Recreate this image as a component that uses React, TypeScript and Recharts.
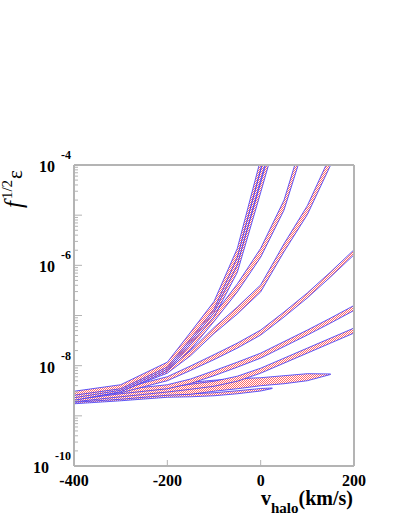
import React from 'react'
import { ComposedChart, Area, XAxis, YAxis, ReferenceLine } from 'recharts'

// plot box in page pixels
const PLOT = { left: 74, top: 165, right: 354, bottom: 466 }
const W = 401
const H = 518
const SERIF = '"Liberation Serif", "DejaVu Serif", serif'
const AXIS_GREY = '#b4b4b4'

const V = [-400, -300, -200, -150, -100, -50, 0, 25, 50, 100, 150, 200]

// each band: log10 of its centre and its half-width in decades, one per V; null = not drawn
const c1 = [-8.55, -8.42, -7.98, -7.4, -6.8, -5.75, -3.98, null, -2.2, null, null, null]
const h1 = [0.04, 0.04, 0.05, 0.07, 0.08, 0.09, 0.1, null, 0.12, null, null, null]
const c2 = [-8.6, -8.45, -8.02, -7.45, -6.86, -5.9, -4.2, null, -2.5, null, null, null]
const h2 = [0.04, 0.04, 0.05, 0.07, 0.08, 0.09, 0.1, null, 0.12, null, null, null]
const c3 = [-8.65, -8.48, -8.06, -7.5, -6.95, -6.05, -4.45, null, -2.8, null, null, null]
const h3 = [0.04, 0.04, 0.05, 0.07, 0.08, 0.09, 0.1, null, 0.12, null, null, null]
const c4 = [-8.56, -8.45, -8.05, -7.62, -7.05, -6.45, -5.75, null, -4.8, -3.3, null, null]
const h4 = [0.04, 0.04, 0.05, 0.06, 0.07, 0.08, 0.09, null, 0.1, 0.12, null, null]
const c5 = [-8.58, -8.47, -8.1, -7.75, -7.3, -6.9, -6.46, null, -5.65, -4.9, -3.9, null]
const h5 = [0.04, 0.04, 0.05, 0.05, 0.06, 0.07, 0.07, null, 0.08, 0.09, 0.1, null]
const c6 = [-8.62, -8.5, -8.26, -8.05, -7.83, -7.6, -7.34, null, -6.98, -6.6, -6.18, -5.74]
const h6 = [0.04, 0.04, 0.04, 0.045, 0.05, 0.05, 0.05, null, 0.05, 0.05, 0.05, 0.05]
const c7 = [-8.64, -8.52, -8.42, -8.31, -8.15, -7.98, -7.8, null, -7.57, -7.34, -7.1, -6.85]
const h7 = [0.04, 0.04, 0.04, 0.045, 0.05, 0.05, 0.05, null, 0.05, 0.05, 0.05, 0.05]
const c8 = [-8.68, -8.58, -8.48, -8.42, -8.36, -8.26, -8.1, null, -7.9, -7.7, -7.5, -7.3]
const h8 = [0.04, 0.04, 0.045, 0.05, 0.05, 0.05, 0.05, null, 0.05, 0.05, 0.05, 0.05]
const c9 = [-8.66, -8.6, -8.5, -8.45, -8.4, -8.36, -8.32, null, -8.28, -8.23, -8.17, null]
const h9 = [0.07, 0.07, 0.09, 0.12, 0.11, 0.1, 0.08, null, 0.08, 0.07, 0.005, null]
const c10 = [-8.72, -8.66, -8.6, -8.59, -8.57, -8.53, -8.48, -8.45, null, null, null, null]
const h10 = [0.04, 0.04, 0.03, 0.03, 0.03, 0.03, 0.025, 0.005, null, null, null, null]

// lowest bands first so the steep ones sit on top
const BANDS = [
  [c10, h10], [c9, h9], [c8, h8], [c7, h7], [c6, h6],
  [c5, h5], [c4, h4], [c3, h3], [c2, h2], [c1, h1],
]

const DECADES = [-10, -9, -8, -7, -6, -5, -4]
const MINOR = [2, 3, 4, 5, 6, 7, 8, 9]
const X_TICKS = [-400, -200, 0, 200]

const yTicks: number[] = []
DECADES.forEach((d) => {
  yTicks.push(Math.pow(10, d))
  if (d < -4) MINOR.forEach((m) => yTicks.push(m * Math.pow(10, d)))
})

const rows = V.map((v, i) => {
  const r: Record<string, any> = { v }
  BANDS.forEach(([c, h], k) => {
    const cc = c[i]
    const hh = h[i]
    r['b' + k] = cc == null || hh == null ? [null, null] : [Math.pow(10, cc - hh), Math.pow(10, cc + hh)]
  })
  return r
})

function YTick(props: any) {
  const { y, payload } = props
  const e = Math.log10(payload.value)
  const major = Math.abs(e - Math.round(e)) < 1e-6
  const ex = Math.round(e)
  return (
    <g>
      <line x1={PLOT.left} x2={PLOT.left + (major ? 8 : 4)} y1={y} y2={y} stroke={AXIS_GREY} />
      {major && ex % 2 === 0 && (
        <text x={71} y={y + 7} textAnchor="end" fontFamily={SERIF} fontWeight="bold" fontSize={16} fill="#000">
          10
          <tspan dx={6} dy={-13} fontSize={12}>
            {String(ex)}
          </tspan>
        </text>
      )}
    </g>
  )
}

function XTick(props: any) {
  const { x, payload } = props
  return (
    <g>
      <line x1={x} x2={x} y1={PLOT.bottom} y2={PLOT.bottom - 6} stroke={AXIS_GREY} />
      <text x={x} y={486} textAnchor="middle" fontFamily={SERIF} fontWeight="bold" fontSize={16} fill="#000">
        {payload.value}
      </text>
    </g>
  )
}

export default function App() {
  return (
    <div style={{ position: 'absolute', left: 0, top: 0, width: W, height: H, background: '#fff' }}>
      <ComposedChart
        width={W}
        height={H}
        data={rows}
        margin={{ top: PLOT.top, right: W - PLOT.right, bottom: 0, left: 0 }}
      >
        <XAxis
          dataKey="v"
          type="number"
          domain={[-400, 200]}
          ticks={X_TICKS}
          height={H - PLOT.bottom}
          axisLine={{ stroke: AXIS_GREY, strokeWidth: 2 }}
          tickLine={false}
          tick={<XTick />}
          interval={0}
        />
        <YAxis
          type="number"
          scale="log"
          domain={[1e-10, 1e-4]}
          allowDataOverflow
          ticks={yTicks}
          width={PLOT.left}
          axisLine={{ stroke: AXIS_GREY, strokeWidth: 2 }}
          tickLine={false}
          tick={<YTick />}
          interval={0}
        />
        {BANDS.map((_, k) => (
          <Area
            key={k}
            dataKey={'b' + k}
            type="linear"
            stroke="#3a3aff"
            strokeWidth={1}
            strokeOpacity={0.8}
            fill="url(#chk)"
            fillOpacity={1}
            connectNulls
            dot={false}
            activeDot={false}
            isAnimationActive={false}
          />
        ))}
        <ReferenceLine y={1e-4} stroke={AXIS_GREY} strokeWidth={2} ifOverflow="visible" />
        <ReferenceLine x={200} stroke={AXIS_GREY} strokeWidth={2} ifOverflow="visible" />
      </ComposedChart>
      <svg
        width={W}
        height={H}
        style={{ position: 'absolute', left: 0, top: 0, pointerEvents: 'none' }}
      >
        <defs>
          <pattern id="chk" width="2" height="2" patternUnits="userSpaceOnUse">
            <rect width="2" height="2" fill="#fff" />
            <rect x="0" y="0" width="1" height="1" fill="#ff6a6a" />
            <rect x="1" y="1" width="1" height="1" fill="#ff6a6a" />
          </pattern>
        </defs>
        <text transform="translate(22,208) rotate(-90)" fontFamily={SERIF} fill="#000">
          <tspan fontStyle="italic" fontSize={25}>f</tspan>
          <tspan fontSize={15} dx={2} dy={-10}>1/2</tspan>
          <tspan fontSize={21} dx={1} dy={10}>ε</tspan>
        </text>
        <text x={353} y={505} textAnchor="end" fontFamily={SERIF} fontWeight="bold" fontSize={20} fill="#000">
          v
          <tspan fontSize={15} dy={8}>halo</tspan>
          <tspan fontSize={20} dy={-8}>(km/s)</tspan>
        </text>
      </svg>
    </div>
  )
}
